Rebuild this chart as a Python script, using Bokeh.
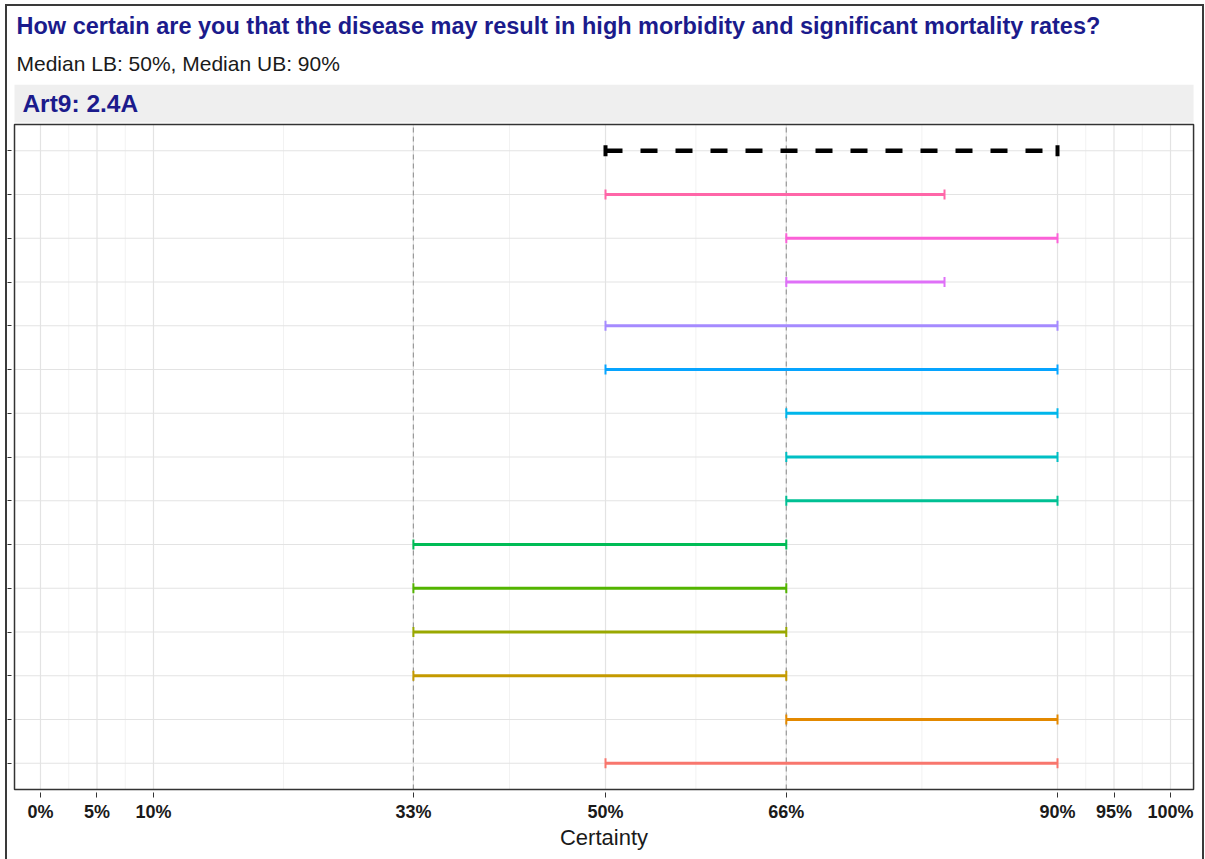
import numpy as np
from bokeh.plotting import figure
from bokeh.models import (ColumnDataSource, Range1d, FixedTicker, Title,
                          InlineStyleSheet, Label)
from bokeh.embed import file_html
from bokeh.resources import INLINE

# ---------------- data ----------------
title_text = "How certain are you that the disease may result in high morbidity and significant mortality rates?"
panel_label = "Art9: 2.4A"
# respondents, listed from bottom row to top row
lower_bounds = [50, 66, 33, 33, 33, 33, 66, 66, 66, 50, 50, 66, 66, 50]
upper_bounds = [90, 90, 66, 66, 66, 66, 90, 90, 90, 90, 90, 80, 90, 80]
row_colors = ["#F8766D", "#E38900", "#C49A00", "#99A800", "#53B400", "#00BC56",
              "#00C094", "#00BFC4", "#00B6EB", "#06A4FF", "#A58AFF", "#DF70F8",
              "#FB61D7", "#FF66A8"]
median_lb = 50
median_ub = 90
tick_values = [0, 5, 10, 33, 50, 66, 90, 95, 100]
ref_lines = [33, 66]

# ---------------- layout constants ----------------
W, H = 1205, 859
PX_PER_X = 11.3
PX_PER_Y = 43.75
n_rows = len(lower_bounds) + 1
panel_y0, panel_y1 = 0.4, n_rows + 0.6
panel_x0, panel_x1 = -2.30, 102.04
frame_x0, frame_x1 = -2.566, 102.30
frame_y0 = panel_y0 - 3 / PX_PER_Y
frame_y1 = panel_y1 + 40 / PX_PER_Y
strip_y0 = panel_y1 + 2 / PX_PER_Y

NAVY = "#1B1B8C"
FONT = "Liberation Sans"

css = InlineStyleSheet(css="""
:host { position: relative; }
:host::after { content: ''; position: absolute; left: 5px; top: 4px; width: 1199px; height: 855px;
  border-left: 2px solid #3a3a3a; border-top: 2px solid #3a3a3a; border-right: 2px solid #3a3a3a;
  box-sizing: border-box; pointer-events: none; }
""")

p = figure(width=W, height=H, x_range=Range1d(frame_x0, frame_x1),
           y_range=Range1d(frame_y0, frame_y1), output_backend="svg",
           toolbar_location=None, title=None,
           min_border_left=11, min_border_right=9, min_border_top=84, min_border_bottom=67)
p.stylesheets = [css]
p.outline_line_color = None
p.background_fill_color = "white"
p.border_fill_color = "white"
p.xgrid.visible = False
p.ygrid.visible = False

# titles (stacked upward from the frame)
p.add_layout(Title(text=f"Median LB: {median_lb}%, Median UB: {median_ub}%",
                   text_font=FONT, text_font_size="21px", text_font_style="normal",
                   text_color="#1a1a1a", align="left", offset=5, standoff=20), "above")
p.add_layout(Title(text=title_text, text_font=FONT, text_font_size="23.5px",
                   text_font_style="bold", text_color=NAVY, align="left",
                   offset=5, standoff=2), "above")

# strip
p.quad(left=[panel_x0], right=[panel_x1], bottom=[strip_y0], top=[frame_y1],
       fill_color="#EFEFEF", line_color=None)
p.add_layout(Label(x=-1.6, y=(strip_y0 + frame_y1) / 2, text=panel_label,
                   text_font=FONT, text_font_size="24.5px", text_font_style="bold",
                   text_color=NAVY, text_baseline="middle"))

# grid lines
minor = [(a + b) / 2 for a, b in zip(tick_values[:-1], tick_values[1:])]
p.segment(x0=minor, y0=[panel_y0] * len(minor), x1=minor, y1=[panel_y1] * len(minor),
          line_color="#F2F2F2", line_width=1)
p.segment(x0=tick_values, y0=[panel_y0] * len(tick_values), x1=tick_values,
          y1=[panel_y1] * len(tick_values), line_color="#E3E3E3", line_width=1.2)
rows_all = list(range(1, n_rows + 1))
p.segment(x0=[panel_x0] * n_rows, y0=rows_all, x1=[panel_x1] * n_rows, y1=rows_all,
          line_color="#E3E3E3", line_width=1.2)
p.segment(x0=ref_lines, y0=[panel_y0] * len(ref_lines), x1=ref_lines,
          y1=[panel_y1] * len(ref_lines), line_color="#9A9A9A", line_width=1.2,
          line_dash="5 4")

# respondent intervals
rows = list(range(1, len(lower_bounds) + 1))
src = ColumnDataSource(dict(lb=lower_bounds, ub=upper_bounds, y=rows, color=row_colors))
p.segment(x0="lb", y0="y", x1="ub", y1="y", line_color="color", line_width=2.8, source=src)
p.scatter(x="lb", y="y", marker="dash", angle=np.pi / 2, size=10, line_color="color",
          line_width=2, source=src)
p.scatter(x="ub", y="y", marker="dash", angle=np.pi / 2, size=10, line_color="color",
          line_width=2, source=src)

# median interval
p.segment(x0=[median_lb], y0=[n_rows], x1=[median_ub], y1=[n_rows], line_color="black",
          line_width=4.5, line_dash="17 18")
p.scatter(x=[median_lb, median_ub], y=[n_rows, n_rows], marker="dash", angle=np.pi / 2,
          size=11, line_color="black", line_width=4)

# panel border
p.quad(left=[panel_x0], right=[panel_x1], bottom=[panel_y0], top=[panel_y1],
       fill_color=None, line_color="#333333", line_width=1.5)

# axes
xa = p.xaxis[0]
xa.ticker = FixedTicker(ticks=tick_values)
xa.major_label_overrides = {v: f"{v}%" for v in tick_values}
xa.axis_line_color = None
xa.major_tick_in = 0
xa.major_tick_out = 5
xa.major_tick_line_color = "#333333"
xa.minor_tick_line_color = None
xa.major_label_text_font = FONT
xa.major_label_text_font_size = "18px"
xa.major_label_text_font_style = "bold"
xa.major_label_text_color = "#1a1a1a"
xa.major_label_standoff = 4
xa.axis_label = "Certainty"
xa.axis_label_text_font = FONT
xa.axis_label_text_font_size = "22px"
xa.axis_label_text_font_style = "normal"
xa.axis_label_text_color = "#1a1a1a"
xa.axis_label_standoff = 0

ya = p.yaxis[0]
ya.ticker = FixedTicker(ticks=rows_all)
ya.major_label_overrides = {i: "" for i in rows_all}
ya.axis_line_color = None
ya.major_tick_in = 0
ya.major_tick_out = 4
ya.major_tick_line_color = "#333333"
ya.minor_tick_line_color = None
ya.major_label_standoff = 0

open("out.html", "w").write(file_html(p, INLINE))
